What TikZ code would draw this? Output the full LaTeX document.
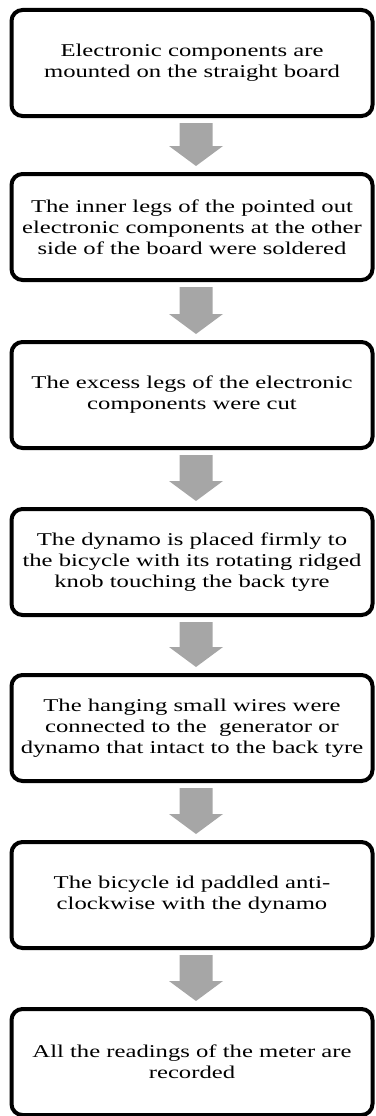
\documentclass[tikz,border=0pt]{standalone}
\usepackage{fontspec}
\setmainfont{Liberation Serif}[FakeStretch=1.37]
\usetikzlibrary{calc}
\tikzset{
  stepbox/.style={draw, line width=4pt, rounded corners=11pt, fill=white,
    minimum width=361pt, minimum height=106pt, inner sep=0pt,
    align=center, anchor=north, font=\fontsize{18}{21}\selectfont},
  flowarrow/.style={fill=black!35, draw=none}
}
\begin{document}
\begin{tikzpicture}[x=1pt,y=1pt]
\useasboundingbox (0,0) rectangle (375,-1116);
\node[stepbox] (b1) at (192,-8) {Electronic components are\\mounted on the straight board};
\node[stepbox] (b2) at (192,-172) {The inner legs of the pointed out\\electronic components at the other\\side of the board were soldered};
\node[stepbox] (b3) at (192,-340) {The excess legs of the electronic\\components were cut};
\node[stepbox] (b4) at (192,-507) {The dynamo is placed firmly to\\the bicycle with its rotating ridged\\knob touching the back tyre};
\node[stepbox] (b5) at (192,-673) {The hanging small wires were\\connected to the\ \ generator or\\dynamo that intact to the back tyre};
\node[stepbox] (b6) at (192,-840) {The bicycle id paddled anti-\\clockwise with the dynamo};
\node[stepbox] (b7) at (192,-1007) {All the readings of the meter are\\recorded};
\foreach \a/\b in {b1/b2,b2/b3,b3/b4,b4/b5,b5/b6,b6/b7}{
  \fill[flowarrow] ($(\a.south)+(-12.5,-5)$) -- ($(\a.south)+(20.5,-5)$)
    -- ($(\b.north)+(20.5,26)$) -- ($(\b.north)+(31,26)$)
    -- ($(\b.north)+(4,6)$) -- ($(\b.north)+(-23,26)$)
    -- ($(\b.north)+(-12.5,26)$) -- cycle;
}
\end{tikzpicture}
\end{document}
